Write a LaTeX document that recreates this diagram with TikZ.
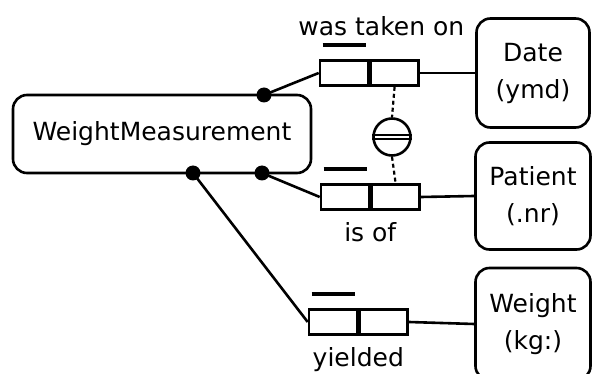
\documentclass[tikz,border=0pt]{standalone}
\usepackage{fontspec}
\setmainfont{DejaVu Sans}
\usetikzlibrary{positioning}
\tikzstyle{entity}=[
	rectangle,
	rounded corners=14pt,
	line width=2.6pt,
	draw=black,
	align=center,
	font=\fontsize{25}{37}\selectfont
]
\tikzstyle{role}=[
	rectangle,
	line width=2.6pt,
	draw=black,
	minimum width=48pt,
	minimum height=25pt,
	inner sep=0pt
]
\tikzstyle{link}=[
	line width=2.6pt
]
\tikzstyle{constraint}=[
	line width=2.2pt,
	dash pattern=on 4pt off 3pt
]
\tikzstyle{unique}=[
	line width=3.5pt
]
\tikzstyle{factlabel}=[
	inner sep=0pt,
	font=\fontsize{25}{30}\selectfont
]

\begin{document}
\begin{tikzpicture}[x=1pt,y=-1pt]
\useasboundingbox (0,0) rectangle (592,374);
% object types
\node [entity, minimum width=298pt, minimum height=78pt] (WeightMeasurement) at (162,134) {WeightMeasurement};
\node [entity, minimum width=113pt, minimum height=109pt] (Date) at (533,73) {Date\\(ymd)};
\node [entity, minimum width=115pt, minimum height=107pt] (Patient) at (533,196) {Patient\\(.nr)};
\node [entity, minimum width=115pt, minimum height=112pt] (Weight) at (533,324) {Weight\\(kg:)};
% fact types
\node [role] (takenA) at (344,73) {};
\node [role] (takenB) [right=0pt of takenA] {};
\node [role] (isofA) at (345,197) {};
\node [role] (isofB) [right=0pt of isofA] {};
\node [role] (yieldA) at (333,322) {};
\node [role] (yieldB) [right=0pt of yieldA] {};
\node [factlabel] (takenLbl) [above=23pt of takenA.north east, xshift=12pt] {was taken on};
\node [factlabel] (isofLbl) [below=12pt of isofA.south east] {is of};
\node [factlabel] (yieldLbl) [below=12pt of yieldA.south east] {yielded};
% uniqueness
\foreach \r in {takenA,isofA,yieldA}
	\draw [unique] ([shift={(4,-14)}]\r.north west) -- ([shift={(-3,-14)}]\r.north east);
\node [circle, draw, line width=2.6pt, minimum size=37pt, inner sep=0pt] (ext) at (392,137) {};
\draw [line width=2pt] ([yshift=2.4pt]ext.west) -- ([yshift=2.4pt]ext.east);
\draw [line width=2pt] ([yshift=-2.4pt]ext.west) -- ([yshift=-2.4pt]ext.east);
\draw [constraint] (takenB.south) -- (ext.north);
\draw [constraint] (ext.south) -- (isofB.north);
% mandatory roles
\coordinate (dotTaken) at (264,95);
\coordinate (dotIsof) at (262,173);
\coordinate (dotYield) at (193,173);
\draw [link] (dotTaken) -- (takenA.west);
\draw [link] (dotIsof) -- (isofA.west);
\draw [link] (dotYield) -- (yieldA.west);
\draw [link] (takenB.east) -- (Date.west);
\draw [link] (isofB.east) -- (Patient.west);
\draw [link] (yieldB.east) -- (Weight.west);
\foreach \d in {dotTaken,dotIsof,dotYield}
	\fill (\d) circle (7.5pt);
\end{tikzpicture}
\end{document}
